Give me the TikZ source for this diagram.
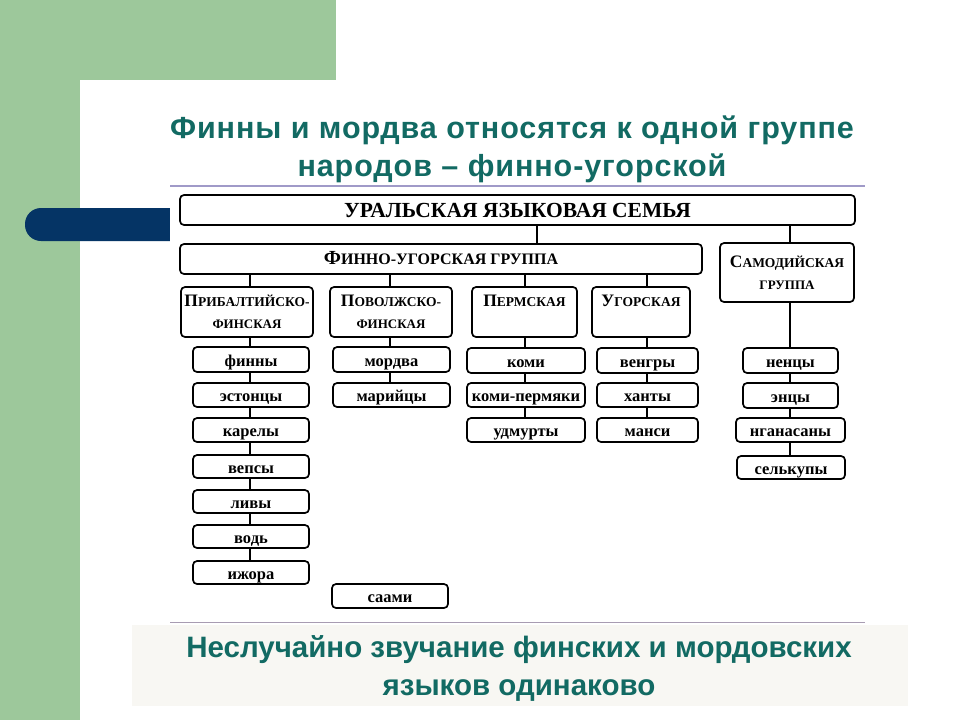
\documentclass[tikz,border=0pt]{standalone}
\usepackage{fontspec}
\setmainfont{Liberation Serif}
\newfontfamily\titlefont[LetterSpace=3]{Liberation Sans}
\newfontfamily\condfont{Liberation Sans}
\definecolor{bggreen}{HTML}{9DC89B}
\definecolor{navybar}{HTML}{053465}
\definecolor{titlecol}{HTML}{126A63}
\definecolor{lavline}{HTML}{A09AC8}
\definecolor{botline}{HTML}{A89CB2}
\definecolor{botbg}{HTML}{F8F7F3}
\newcommand\smc[2]{{\fontsize{17.5}{17.5}\selectfont #1}{\fontsize{13.5}{13.5}\selectfont #2}}
\newcommand\bx[7][]{\node[#1, minimum width=#5pt-#3pt, minimum height=#6pt-#4pt] (#2) at ({(#3+#5)/2},{(#4+#6)/2}) {#7};}
\tikzset{
  box/.style={draw, line width=1.7pt, rounded corners=4pt, inner sep=0pt, font=\bfseries},
  leaf/.style={box, font=\bfseries\fontsize{16.5}{16.5}\selectfont, text height=13pt, text depth=0pt},
  grp/.style={box, align=center, font=\bfseries\fontsize{13}{22}\selectfont},
  conn/.style={line width=1.2pt},
}
\begin{document}
\begin{tikzpicture}[x=1pt,y=-1pt]
\useasboundingbox (0,0) rectangle (960,720);
% background
\fill[white] (0,0) rectangle (960,720);
\fill[bggreen] (0,0) rectangle (336,80);
\fill[bggreen] (0,0) rectangle (80,720);
\fill[white] (80,720) -- (80,100) .. controls (80,89) and (89,80) .. (100,80) -- (960,80) -- (960,720) -- cycle;
% navy bar
\fill[navybar, rounded corners=16pt] (25,208) rectangle (200,241);
% diagram panel
\fill[white] (170,186) rectangle (865,622);
\draw[lavline, line width=1.2pt] (170,186) -- (865,186);
\draw[botline, line width=1pt] (170,622) -- (865,622);
% bottom text panel
\fill[botbg] (132,625) rectangle (908,706);
% title
\node[font=\titlefont\bfseries\fontsize{30.5}{38}\selectfont, text=titlecol, align=center] (title) at (512,149) {Финны и мордва относятся к одной группе\\народов – финно-угорской};
\node[font=\condfont\bfseries\fontsize{29.5}{38}\selectfont, text=titlecol, align=center] (bottom) at (519,668) {Неслучайно звучание финских и мордовских\\языков одинаково};
% top boxes
\bx[box, font=\bfseries\fontsize{21.5}{21.5}\selectfont]{ural}{180}{195}{855}{225}{УРАЛЬСКАЯ ЯЗЫКОВАЯ СЕМЬЯ}
\bx[box, font=\bfseries, text height=13pt, text depth=2pt]{fu}{180}{244}{702}{274}{{\fontsize{20}{20}\selectfont Ф}{\fontsize{16}{16}\selectfont ИННО-УГОРСКАЯ ГРУППА}}
\bx[grp]{sam}{720}{243}{854}{302}{\smc{С}{АМОДИЙСКАЯ}\\ГРУППА}
\bx[grp]{pb}{181}{287}{313}{337}{\smc{П}{РИБАЛТИЙСКО-}\\ФИНСКАЯ}
\bx[grp]{pv}{330}{287}{452}{337}{\smc{П}{ОВОЛЖСКО-}\\ФИНСКАЯ}
\bx[grp]{pm}{472}{287}{577}{337}{\smc{П}{ЕРМСКАЯ}\\\phantom{Ф}}
\bx[grp]{ug}{592}{287}{690}{337}{\smc{У}{ГОРСКАЯ}\\\phantom{Ф}}
% leaves column 1
\bx[leaf]{a1}{193}{347}{309}{372}{финны}
\bx[leaf]{a2}{193}{383}{309}{407}{эстонцы}
\bx[leaf]{a3}{193}{418}{309}{442}{карелы}
\bx[leaf]{a4}{193}{455}{309}{478}{вепсы}
\bx[leaf]{a5}{193}{490}{309}{513}{ливы}
\bx[leaf]{a6}{193}{525}{309}{548}{водь}
\bx[leaf]{a7}{193}{561}{309}{584}{ижора}
% column 2
\bx[leaf]{b1}{333}{347}{450}{372}{мордва}
\bx[leaf]{b2}{333}{383}{450}{407}{марийцы}
\bx[leaf]{b3}{332}{584}{448}{608}{саами}
% column 3
\bx[leaf]{c1}{467}{348}{585}{373}{коми}
\bx[leaf]{c2}{467}{383}{585}{407}{коми-пермяки}
\bx[leaf]{c3}{467}{418}{585}{442}{удмурты}
% column 4
\bx[leaf]{d1}{597}{348}{698}{373}{венгры}
\bx[leaf]{d2}{597}{383}{698}{407}{ханты}
\bx[leaf]{d3}{597}{418}{698}{442}{манси}
% column 5
\bx[leaf]{e1}{743}{348}{838}{373}{ненцы}
\bx[leaf]{e2}{743}{383}{838}{408}{энцы}
\bx[leaf]{e3}{736}{418}{845}{442}{нганасаны}
\bx[leaf]{e4}{737}{456}{845}{479}{селькупы}
% connectors
\draw[conn] (ural.south -| 537,0) -- (fu.north -| 537,0);
\draw[conn] (ural.south -| 790,0) -- (sam.north -| 790,0);
\draw[conn] (fu.south -| 250,0) -- (pb.north -| 250,0);
\draw[conn] (fu.south -| 390,0) -- (pv.north -| 390,0);
\draw[conn] (fu.south -| 525,0) -- (pm.north -| 525,0);
\draw[conn] (fu.south -| 647,0) -- (ug.north -| 647,0);
\draw[conn] (pb.south -| 250,0) -- (a1.north -| 250,0);
\foreach \u/\v in {a1/a2,a2/a3,a3/a4,a4/a5,a5/a6,a6/a7}{\draw[conn] (\u.south -| 250,0) -- (\v.north -| 250,0);}
\draw[conn] (pv.south -| 390,0) -- (b1.north -| 390,0);
\draw[conn] (b1.south -| 390,0) -- (b2.north -| 390,0);
\draw[conn] (pm.south -| 525,0) -- (c1.north -| 525,0);
\foreach \u/\v in {c1/c2,c2/c3}{\draw[conn] (\u.south -| 525,0) -- (\v.north -| 525,0);}
\draw[conn] (ug.south -| 647,0) -- (d1.north -| 647,0);
\foreach \u/\v in {d1/d2,d2/d3}{\draw[conn] (\u.south -| 647,0) -- (\v.north -| 647,0);}
\draw[conn] (sam.south -| 790,0) -- (e1.north -| 790,0);
\foreach \u/\v in {e1/e2,e2/e3,e3/e4}{\draw[conn] (\u.south -| 790,0) -- (\v.north -| 790,0);}
\end{tikzpicture}
\end{document}
